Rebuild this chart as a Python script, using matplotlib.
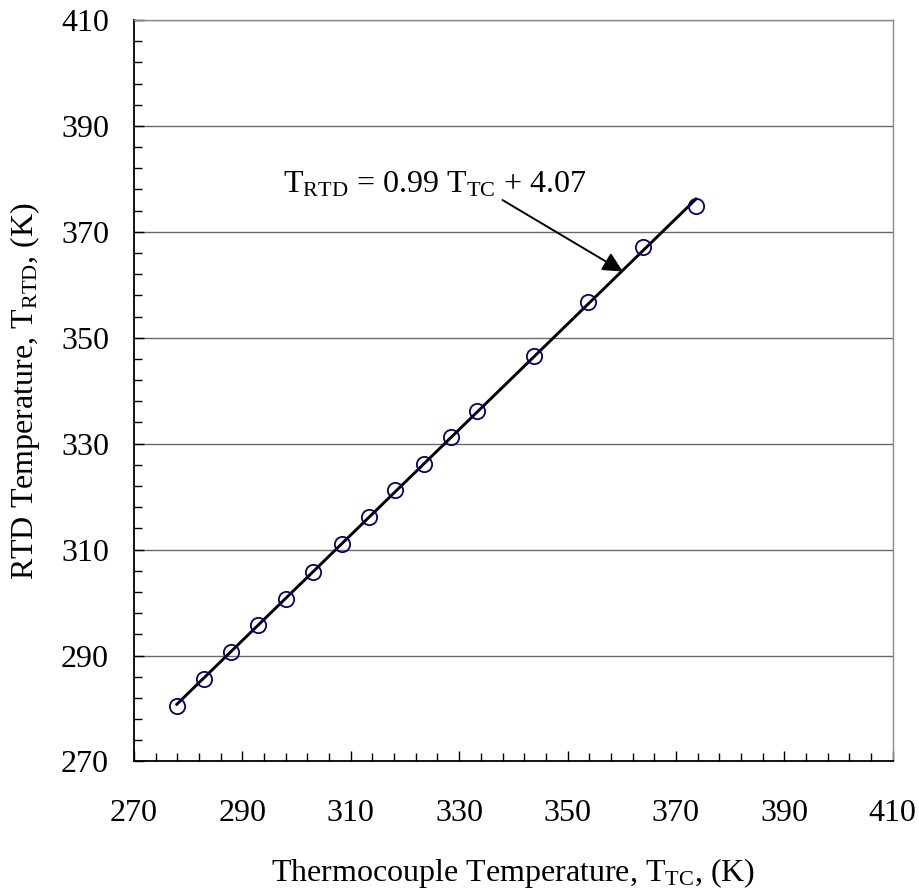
import matplotlib
matplotlib.use("Agg")
import matplotlib.pyplot as plt
import numpy as np
from matplotlib.ticker import AutoMinorLocator

plt.rcParams["font.family"] = "Liberation Serif"
plt.rcParams["mathtext.fontset"] = "custom"
plt.rcParams["mathtext.rm"] = "Liberation Serif"
plt.rcParams["mathtext.it"] = "Liberation Serif:italic"

# thermocouple vs RTD readings (K)
t_tc = [277.9, 282.9, 287.9, 292.9, 298.0, 303.0, 308.3, 313.3,
        318.2, 323.5, 328.5, 333.3, 343.9, 353.7, 364.0, 373.7]
t_rtd = [280.5, 285.6, 290.7, 295.8, 300.7, 305.8, 311.0, 316.2,
         321.3, 326.2, 331.2, 336.2, 346.6, 356.8, 367.1, 374.9]
ticks = [270, 290, 310, 330, 350, 370, 390, 410]

fit_label = r"T$_{\mathrm{RTD}}$ = 0.99 T$_{\mathrm{TC}}$ + 4.07"
label_pos = (297.5, 377.4)
arrow_from = (338.0, 376.0)
arrow_to = (360.2, 362.5)

fig = plt.figure(figsize=(9.2, 8.88), dpi=100)
ax = fig.add_axes([0.1457, 0.1425, 0.8246, 0.835])

x = np.asarray(t_tc)
y = np.asarray(t_rtd)
slope, icpt = np.polyfit(x, y, 1)
xl = np.array([x[0], x[-1]])
ax.plot(xl, slope * xl + icpt, color="black", lw=2.1, zorder=3)
ax.plot(x, y, ls="none", marker="o", ms=11, mfc="none", mec="#000080",
        mew=1.3, zorder=4)

ax.text(*label_pos, fit_label, fontsize=23, ha="left", va="baseline")
ax.annotate("", xy=arrow_to, xytext=arrow_from,
            arrowprops=dict(arrowstyle="-|>", color="black", lw=1.4,
                            mutation_scale=30, shrinkA=0, shrinkB=0))

ax.set_xlim(270, 410)
ax.set_ylim(270, 410)
ax.set_xticks(ticks)
ax.set_yticks(ticks)
ax.xaxis.set_minor_locator(AutoMinorLocator(5))
ax.yaxis.set_minor_locator(AutoMinorLocator(5))
ax.tick_params(which="both", direction="in", labelsize=23, width=1.0)
ax.tick_params(which="major", length=7.2)
ax.tick_params(which="minor", length=5.5)
ax.tick_params(axis="x", pad=27)
ax.tick_params(axis="y", pad=18)

ax.grid(axis="y", which="major", color="#6a6a6a", lw=1.0)
ax.set_axisbelow(True)
for side in ["left", "bottom"]:
    ax.spines[side].set_color("black")
    ax.spines[side].set_linewidth(1.3)
for side in ["right", "top"]:
    ax.spines[side].set_color("#8a8a8a")
    ax.spines[side].set_linewidth(1.0)

ax.set_xlabel(r"Thermocouple Temperature, T$_{\mathrm{TC}}$, (K)", fontsize=23)
ax.set_ylabel(r"RTD Temperature, T$_{\mathrm{RTD}}$, (K)", fontsize=23)
ax.xaxis.set_label_coords(0.5, -0.127)
ax.yaxis.set_label_coords(-0.121, 0.5)

fig.savefig("out.png", dpi=100)
